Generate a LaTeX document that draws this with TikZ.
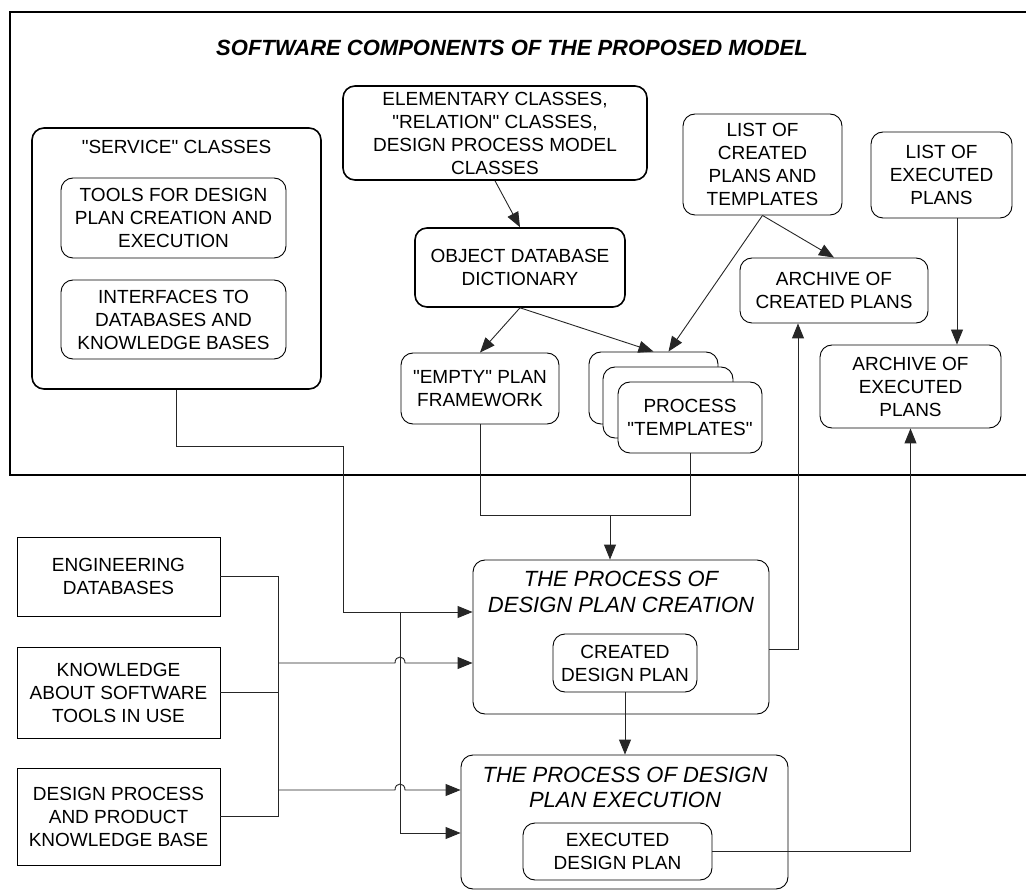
\documentclass[tikz,border=0pt]{standalone}
\usepackage{fontspec}
\setmainfont{Liberation Sans}
% a family without TeX ligature mapping, so that " stays a straight quote
\newfontfamily\arialfam{Liberation Sans}
\usetikzlibrary{arrows.meta,calc}
\begin{document}
\begin{tikzpicture}[x=1pt,y=-1pt,
  txt/.style={font=\arialfam\fontsize{19}{23}\selectfont, align=center, inner sep=0pt},
  box/.style={txt, draw, rounded corners=12pt, line width=0.9pt, fill=white},
  boldbox/.style={box, line width=1.6pt},
  plainbox/.style={box, rounded corners=0pt},
  proctitle/.style={font=\arialfam\fontsize{22}{26}\selectfont\itshape, align=center, inner sep=0pt},
  wire/.style={line width=0.9pt, draw=black!85},
  arrow/.style={wire, -{Triangle[length=15pt,width=12pt]}},
]
\useasboundingbox (0,0) rectangle (1026,890);

% upper frame holding the software components
\draw[line width=1.5pt] (1026,12) -- (10,12) -- (10,475) -- (1026,475);
\node[font=\arialfam\fontsize{22}{26}\selectfont\bfseries\itshape, inner sep=0pt] (title) at (512,48)
  {SOFTWARE COMPONENTS OF THE PROPOSED MODEL};

% service classes
\node[boldbox, minimum width=289pt, minimum height=261pt] (svc) at (176.5,258.5) {};
\node[txt] (svcT) at (176.5,147) {"SERVICE" CLASSES};
\node[box, minimum width=225pt, minimum height=80pt] (tools) at (173.5,218)
  {TOOLS FOR DESIGN\\PLAN CREATION AND\\EXECUTION};
\node[box, minimum width=225pt, minimum height=79pt] (iface) at (173.5,319.5)
  {INTERFACES TO\\DATABASES AND\\KNOWLEDGE BASES};

% model classes and dictionary
\node[boldbox, minimum width=304pt, minimum height=94pt] (elem) at (495,133)
  {ELEMENTARY CLASSES,\\"RELATION" CLASSES,\\DESIGN PROCESS MODEL\\CLASSES};
\node[boldbox, minimum width=210pt, minimum height=79pt] (odb) at (520,267.5)
  {OBJECT DATABASE\\DICTIONARY};
\node[box, minimum width=158pt, minimum height=71pt] (empty) at (480,388.5)
  {"EMPTY" PLAN\\FRAMEWORK};

% stacked templates
\node[box, minimum width=129pt, minimum height=72pt] (tplA) at (653.5,388) {};
\node[box, minimum width=130pt, minimum height=71pt] (tplB) at (668,402.5) {};
\node[box, minimum width=144pt, minimum height=71pt] (tplC) at (690,417.5)
  {PROCESS\\"TEMPLATES"};

% lists and archives
\node[box, minimum width=159pt, minimum height=101pt] (listC) at (762.5,164.5)
  {LIST OF\\CREATED\\PLANS AND\\TEMPLATES};
\node[box, minimum width=141pt, minimum height=86pt] (listE) at (941.5,175)
  {LIST OF\\EXECUTED\\PLANS};
\node[box, minimum width=188pt, minimum height=65pt] (archC) at (834,290.5)
  {ARCHIVE OF\\CREATED PLANS};
\node[box, minimum width=181pt, minimum height=83pt] (archE) at (910.5,386.5)
  {ARCHIVE OF\\EXECUTED\\PLANS};

% processes
\node[box, minimum width=296pt, minimum height=154pt] (create) at (621,637) {};
\node[proctitle] (createT) at (621,591.5)
  {THE PROCESS OF\\DESIGN PLAN CREATION};
\node[box, minimum width=144pt, minimum height=58pt] (cplan) at (625,663)
  {CREATED\\DESIGN PLAN};
\node[box, minimum width=327pt, minimum height=134pt] (exec) at (624.5,822) {};
\node[proctitle, font=\arialfam\fontsize{22}{25}\selectfont\itshape] (execT) at (625,787.5)
  {THE PROCESS OF DESIGN\\PLAN EXECUTION};
\node[box, minimum width=189pt, minimum height=57pt] (eplan) at (617.5,851.5)
  {EXECUTED\\DESIGN PLAN};

% knowledge sources
\node[plainbox, minimum width=203pt, minimum height=79pt] (eng) at (118.5,576.5)
  {ENGINEERING\\DATABASES};
\node[plainbox, minimum width=203pt, minimum height=91pt] (know) at (118.5,692.5)
  {KNOWLEDGE\\ABOUT SOFTWARE\\TOOLS IN USE};
\node[plainbox, minimum width=203pt, minimum height=97pt] (dkb) at (118.5,816.5)
  {DESIGN PROCESS\\AND PRODUCT\\KNOWLEDGE BASE};

% connectors in the upper part
\draw[arrow] (elem.south) -- (odb.north);
\draw[arrow] (odb.south) -- (empty.north);
\draw[arrow] (odb.south) -- (tplA.north);
\draw[arrow] (listC.south) -- ($(tplA.north)+(15,0)$);
\draw[arrow] (listC.south) -- (archC.north);
\coordinate (xE) at (957,0);
\draw[arrow] (listE.south -| xE) -- (archE.north -| xE);

% framework and templates feed the creation process
\coordinate (jt) at (610,515);
\draw[wire] (empty.south) |- (tplC.south |- jt) -- (tplC.south);
\draw[arrow] (jt) -- (create.north -| jt);

% service classes feed both processes
\coordinate (sv1) at (343,446);
\coordinate (sv2) at (343,612);
\coordinate (sv3) at (400,612);
\coordinate (ex2) at (400,833);
\draw[arrow] (svc.south) |- (sv1) -- (sv2) -- (create.west |- sv2);
\draw[arrow] (sv3) -- (ex2) -- (exec.west |- ex2);

% knowledge bus with hops over the service line
\coordinate (bus1) at (278,663);
\coordinate (bus2) at (278,790);
\draw[wire] (eng.east) -| (bus1);
\draw[wire] (know.east) -- (know.east -| bus1);
\draw[wire] (dkb.east) -| (bus2);
\draw[wire] (bus1) -- (bus2);
\draw[arrow] (bus1) -- (395,663) .. controls (395,655) and (405,655) .. (405,663)
  -- (create.west |- bus1);
\draw[arrow] (bus2) -- (395,790) .. controls (395,782) and (405,782) .. (405,790)
  -- (exec.west |- bus2);

% results go to the archives and on to execution
\coordinate (ca) at (798,649);
\draw[arrow] (create.east |- ca) -- (ca) -- (archC.south -| ca);
\draw[arrow] (cplan.south) -- (exec.north -| cplan.south);
\draw[arrow] (eplan.east) -| (archE.south);
\end{tikzpicture}
\end{document}
